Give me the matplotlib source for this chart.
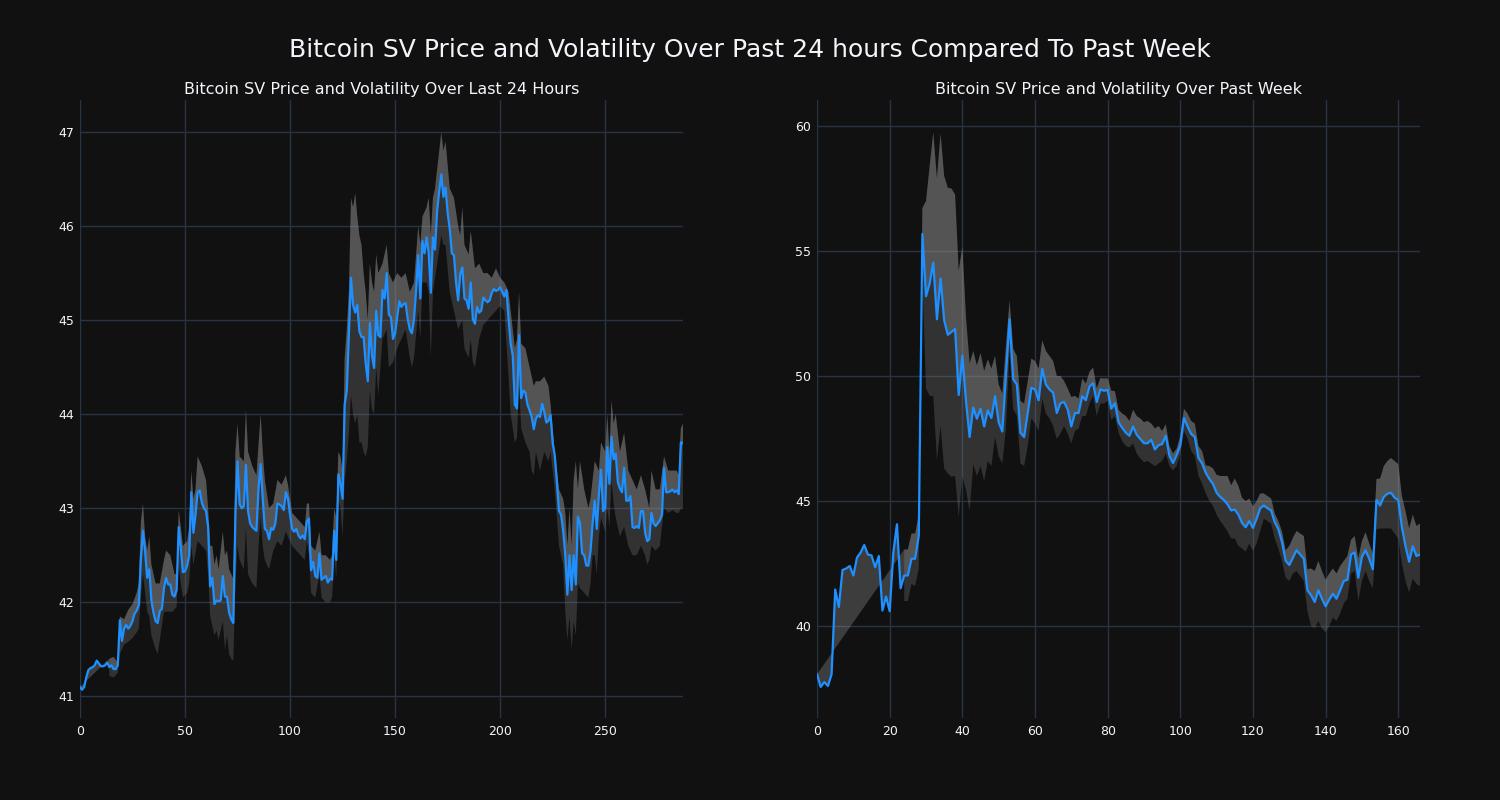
import numpy as np
import matplotlib
matplotlib.use("Agg")
import matplotlib.pyplot as plt

# ---------------- data: last 24 hours (5-minute steps) ----------------
day_price = [
    41.10, 41.07, 41.10, 41.20, 41.28, 41.30, 41.31, 41.33, 41.38, 41.35,
    41.32, 41.32, 41.33, 41.36, 41.31, 41.33, 41.29, 41.29, 41.33, 41.81,
    41.59, 41.72, 41.76, 41.72, 41.75, 41.80, 41.88, 41.91, 41.97, 42.45,
    42.76, 42.54, 42.26, 42.35, 42.02, 41.89, 41.80, 41.78, 41.91, 41.93,
    42.15, 42.26, 42.19, 42.19, 42.08, 42.06, 42.13, 42.80, 42.58, 42.32,
    42.33, 42.39, 42.50, 43.17, 42.74, 42.93, 43.17, 43.19, 43.06, 43.00,
    42.97, 42.80, 42.17, 42.26, 41.98, 42.02, 42.01, 42.02, 42.28, 42.06,
    42.06, 41.89, 41.82, 41.78, 42.93, 43.50, 43.04, 43.00, 43.02, 43.46,
    42.97, 42.84, 42.80, 42.78, 42.76, 43.21, 43.47, 43.10, 42.78, 42.76,
    42.67, 42.79, 42.77, 42.84, 43.05, 43.04, 43.02, 42.98, 43.17, 43.10,
    42.93, 42.78, 42.75, 42.78, 42.71, 42.68, 42.71, 42.67, 42.86, 42.89,
    42.34, 42.43, 42.28, 42.26, 42.52, 42.24, 42.26, 42.28, 42.21, 42.25,
    42.24, 42.76, 42.45, 43.36, 43.26, 43.10, 44.10, 44.25, 44.84, 45.45,
    45.16, 45.08, 45.16, 44.88, 44.82, 44.82, 44.54, 44.35, 44.97, 44.62,
    44.49, 45.10, 44.84, 44.82, 45.32, 45.23, 45.50, 45.06, 45.03, 44.80,
    44.86, 45.03, 45.20, 45.14, 45.17, 45.18, 45.01, 44.90, 44.86, 45.01,
    45.32, 45.69, 45.23, 45.84, 45.71, 45.88, 45.71, 45.29, 45.88, 45.75,
    46.16, 46.37, 46.55, 46.31, 46.41, 46.14, 45.97, 45.71, 45.69, 45.40,
    45.21, 45.49, 45.56, 45.23, 45.21, 45.12, 45.40, 45.01, 44.96, 45.14,
    45.08, 45.10, 45.24, 45.21, 45.19, 45.21, 45.29, 45.33, 45.31, 45.32,
    45.35, 45.30, 45.25, 45.32, 45.01, 44.75, 44.62, 44.10, 44.06, 44.84,
    44.17, 44.25, 44.23, 44.10, 44.04, 43.97, 43.84, 43.95, 43.99, 43.97,
    44.11, 44.02, 43.91, 43.93, 43.99, 43.69, 43.56, 43.28, 42.97, 42.93,
    42.76, 42.50, 42.08, 42.50, 42.13, 42.50, 42.19, 42.91, 42.84, 42.52,
    42.50, 42.39, 42.39, 42.54, 42.84, 43.08, 42.78, 43.15, 43.41, 42.97,
    43.00, 43.65, 43.26, 43.76, 43.52, 43.58, 43.28, 43.21, 43.17, 43.43,
    43.08, 43.08, 43.13, 42.80, 42.79, 42.81, 42.79, 42.97, 42.97, 42.74,
    42.65, 42.67, 42.95, 42.84, 42.81, 42.84, 42.87, 42.93, 43.43, 43.17,
    43.17, 43.18, 43.20, 43.17, 43.19, 43.15, 43.70, 43.69,
]

day_upper_x = [
    14, 16, 18, 19, 21, 23, 25, 27, 28, 29, 30, 31, 32, 33, 34, 36, 38, 40, 41, 43,
    45, 46, 47, 48, 49, 51, 52, 53, 54, 55, 56, 58, 60, 61, 62, 63, 64, 65, 66, 67,
    68, 69, 70, 71, 73, 74, 75, 76, 78, 79, 80, 82, 84, 86, 87, 88, 90, 92, 94, 96,
    98, 99, 101, 103, 105, 107, 108, 109, 110, 112, 114, 115, 117, 119, 120, 121, 122, 123, 124, 125,
    126, 127, 128, 129, 130, 131, 132, 133, 134, 135, 136, 137, 138, 139, 140, 141, 142, 144, 146, 147,
    149, 151, 153, 155, 157, 159, 161, 162, 163, 165, 166, 167, 168, 169, 170, 172, 173, 174, 176, 178,
    180, 181, 182, 183, 185, 186, 188, 190, 192, 194, 196, 198, 200, 202, 204, 205, 207, 208, 209, 210,
    212, 214, 216, 217, 219, 221, 223, 224, 226, 228, 230, 231, 232, 233, 234, 235, 236, 237, 238, 240,
    242, 243, 244, 245, 247, 248, 250, 251, 252, 253, 254, 255, 257, 259, 261, 263, 265, 267, 269, 271,
    272, 274, 276, 278, 280, 282, 284, 285, 286, 287,
]
day_upper = [
    41.40, 41.42, 41.36, 41.85, 41.82, 41.92, 41.98, 42.10, 42.20, 42.85, 43.05, 42.70, 42.55, 42.70, 42.40, 42.20, 42.20, 42.45, 42.55, 42.50,
    42.30, 42.30, 42.98, 42.80, 42.60, 42.65, 42.80, 43.40, 43.10, 43.20, 43.55, 43.45, 43.30, 43.00, 42.60, 42.60, 42.40, 42.50, 42.35, 42.55,
    42.75, 42.50, 42.55, 42.35, 42.25, 43.60, 43.90, 43.55, 43.50, 44.05, 43.60, 43.45, 43.35, 44.00, 43.60, 43.30, 43.00, 43.05, 43.30, 43.25,
    43.35, 43.25, 42.95, 42.90, 42.85, 42.80, 43.05, 43.05, 42.60, 42.55, 42.75, 42.50, 42.50, 42.45, 42.50, 43.00, 42.90, 43.60, 43.55, 43.40,
    44.60, 44.90, 45.30, 46.30, 46.20, 46.35, 46.10, 45.90, 45.80, 45.50, 45.30, 45.00, 45.60, 45.40, 45.30, 45.70, 45.50, 45.60, 45.80, 45.50,
    45.40, 45.50, 45.45, 45.50, 45.30, 45.40, 46.00, 45.80, 46.10, 46.20, 46.30, 45.90, 46.30, 46.40, 46.60, 47.00, 46.80, 46.90, 46.40, 46.30,
    46.00, 45.90, 46.20, 45.80, 45.70, 45.95, 45.55, 45.60, 45.50, 45.50, 45.45, 45.55, 45.45, 45.40, 45.30, 45.10, 44.70, 44.80, 45.30, 44.75,
    44.70, 44.50, 44.30, 44.35, 44.35, 44.40, 44.30, 44.10, 43.60, 43.20, 43.10, 42.95, 42.60, 43.00, 42.60, 43.30, 43.50, 43.20, 43.50, 43.20,
    43.00, 43.10, 43.30, 43.50, 43.40, 43.70, 43.60, 44.00, 43.60, 44.15, 43.90, 44.00, 43.60, 43.80, 43.40, 43.30, 43.20, 43.35, 43.20, 43.00,
    43.40, 43.20, 43.20, 43.55, 43.40, 43.40, 43.40, 43.35, 43.85, 43.90,
]

day_lower_x = [
    14, 16, 18, 19, 21, 23, 25, 27, 28, 29, 30, 31, 32, 33, 34, 36, 37, 38, 40, 42,
    44, 46, 47, 48, 49, 51, 52, 53, 54, 56, 58, 60, 61, 62, 63, 64, 65, 66, 68, 69,
    70, 71, 72, 73, 74, 75, 76, 78, 79, 80, 82, 84, 85, 86, 87, 88, 90, 92, 94, 96,
    98, 99, 101, 103, 105, 107, 108, 109, 110, 112, 114, 115, 117, 119, 120, 121, 122, 123, 124, 125,
    126, 127, 128, 129, 130, 131, 132, 133, 134, 135, 136, 137, 138, 139, 140, 141, 142, 144, 146, 147,
    149, 151, 153, 155, 157, 158, 159, 161, 162, 163, 165, 166, 167, 168, 170, 172, 173, 174, 176, 178,
    180, 181, 182, 183, 185, 186, 187, 188, 190, 192, 194, 196, 198, 200, 202, 204, 205, 207, 208, 209,
    210, 212, 214, 215, 216, 217, 219, 221, 223, 224, 226, 228, 230, 231, 232, 233, 234, 235, 236, 237,
    238, 240, 242, 243, 244, 245, 246, 247, 248, 250, 251, 252, 253, 254, 255, 257, 259, 261, 263, 265,
    267, 269, 270, 271, 272, 274, 276, 278, 280, 282, 284, 285, 286, 287,
]
day_lower = [
    41.22, 41.20, 41.25, 41.45, 41.55, 41.58, 41.62, 41.68, 41.72, 42.05, 42.30, 42.10, 41.90, 41.85, 41.65, 41.50, 41.45, 41.60, 41.90, 41.90,
    41.90, 41.95, 42.40, 42.20, 42.05, 42.10, 42.20, 42.60, 42.40, 42.65, 42.60, 42.55, 42.30, 41.85, 41.75, 41.65, 41.70, 41.60, 41.80, 41.50,
    41.65, 41.45, 41.40, 41.38, 42.20, 42.60, 42.45, 42.35, 42.80, 42.30, 42.20, 42.15, 42.60, 42.90, 42.60, 42.45, 42.35, 42.55, 42.65, 42.60,
    42.75, 42.70, 42.60, 42.55, 42.50, 42.45, 42.65, 42.50, 42.10, 42.05, 42.30, 42.05, 42.00, 42.00, 42.05, 42.50, 42.25, 43.10, 43.00, 42.70,
    43.30, 43.50, 43.80, 44.20, 44.00, 43.90, 44.00, 43.70, 43.70, 43.60, 43.55, 43.65, 44.25, 44.05, 44.00, 44.50, 44.20, 44.80, 44.90, 44.50,
    44.55, 44.70, 44.80, 44.90, 44.60, 44.50, 44.60, 45.10, 44.80, 45.40, 45.40, 45.30, 44.60, 45.30, 45.60, 45.90, 45.80, 45.80, 45.30, 45.10,
    44.90, 44.95, 45.00, 44.70, 44.60, 44.80, 44.55, 44.50, 44.80, 44.95, 45.00, 45.05, 45.10, 45.15, 45.10, 44.40, 44.00, 43.70, 43.75, 44.30,
    43.85, 43.70, 43.60, 43.40, 43.35, 43.60, 43.40, 43.60, 43.50, 43.60, 43.20, 42.60, 42.40, 41.90, 41.60, 41.85, 41.50, 41.80, 41.65, 42.20,
    42.15, 42.10, 42.05, 42.20, 42.50, 42.50, 42.30, 42.70, 42.90, 42.75, 43.00, 42.80, 43.30, 43.05, 42.90, 42.70, 42.80, 42.60, 42.50, 42.50,
    42.60, 42.50, 42.40, 42.45, 42.60, 42.55, 42.60, 43.00, 42.95, 42.98, 42.95, 42.95, 43.00, 43.00,
]

# ---------------- data: past week (hourly steps) ----------------
week_price = [
    38.07, 37.56, 37.76, 37.60, 38.07, 41.46, 40.76, 42.24, 42.30, 42.40,
    42.02, 42.74, 42.94, 43.24, 42.86, 42.82, 42.35, 42.80, 40.62, 41.18,
    40.59, 42.94, 44.07, 41.51, 42.02, 42.02, 42.69, 42.69, 43.61, 55.68,
    53.19, 53.70, 54.54, 52.27, 53.90, 52.22, 51.65, 51.76, 51.88, 49.24,
    50.81, 48.99, 47.56, 48.74, 48.29, 48.69, 47.98, 48.62, 48.32, 49.19,
    48.15, 47.78, 50.00, 52.27, 49.87, 49.66, 47.73, 47.56, 48.52, 49.53,
    49.46, 49.03, 50.29, 49.66, 49.46, 49.33, 48.52, 48.91, 48.96, 48.66,
    47.98, 48.52, 48.52, 49.19, 49.03, 49.58, 49.71, 48.96, 49.46, 49.41,
    49.44, 48.69, 48.91, 48.15, 47.93, 47.73, 47.61, 47.98, 47.65, 47.48,
    47.31, 47.31, 47.45, 47.06, 47.23, 47.28, 47.61, 46.81, 46.52, 46.84,
    47.23, 48.32, 47.98, 47.68, 47.56, 46.72, 46.50, 46.13, 45.88, 45.68,
    45.33, 45.16, 45.04, 44.87, 44.62, 44.66, 44.45, 44.12, 43.95, 44.20,
    43.92, 44.29, 44.71, 44.82, 44.71, 44.62, 44.15, 43.87, 43.36, 42.61,
    42.44, 42.74, 43.03, 42.86, 42.69, 41.43, 41.23, 40.96, 41.43, 41.09,
    40.79, 41.06, 41.29, 41.09, 41.43, 41.80, 41.85, 42.86, 42.94, 41.93,
    42.77, 43.03, 42.69, 42.27, 45.04, 44.82, 45.16, 45.29, 45.33, 45.13,
    45.04, 43.95, 43.19, 42.57, 43.19, 42.80, 42.86,
]

week_band_x = list(range(24, 167))
week_upper = [
    43.06, 43.06, 43.70, 43.70, 44.45, 56.72, 57.00, 58.40, 59.75, 57.90,
    59.70, 58.00, 57.53, 57.50, 57.26, 54.20, 55.17, 52.35, 50.50, 51.00,
    50.42, 50.92, 50.20, 50.67, 50.30, 50.80, 49.66, 49.30, 51.20, 53.03,
    51.09, 50.80, 49.00, 48.90, 49.80, 50.70, 50.60, 50.30, 51.43, 51.00,
    50.80, 50.60, 50.00, 50.00, 49.80, 49.50, 49.16, 49.20, 49.10, 49.90,
    49.70, 50.17, 50.34, 49.50, 49.92, 49.90, 49.90, 49.41, 49.40, 48.65,
    48.50, 48.40, 48.20, 48.65, 48.40, 48.30, 48.15, 48.20, 48.10, 47.90,
    48.00, 47.80, 48.07, 47.20, 46.90, 47.10, 47.60, 48.69, 48.50, 48.20,
    48.10, 47.20, 47.00, 46.42, 46.40, 46.30, 46.05, 46.00, 46.00, 46.00,
    45.63, 45.90, 45.60, 45.13, 45.00, 45.10, 44.79, 45.00, 45.30, 45.30,
    45.20, 45.10, 44.50, 44.20, 43.78, 43.03, 43.20, 43.53, 43.80, 43.70,
    43.60, 42.27, 42.30, 42.20, 42.60, 42.20, 41.85, 42.10, 42.30, 42.10,
    42.40, 42.60, 42.80, 43.45, 43.60, 42.70, 43.40, 43.75, 43.30, 42.90,
    45.88, 45.90, 46.39, 46.60, 46.72, 46.60, 46.47, 45.20, 44.60, 43.90,
    44.45, 44.00, 44.10,
]
week_lower = [
    41.00, 41.00, 41.68, 41.60, 42.30, 54.00, 49.50, 49.20, 49.20, 46.64,
    48.00, 46.30, 46.10, 45.97, 46.00, 44.37, 46.00, 45.46, 44.60, 46.47,
    46.00, 46.40, 45.80, 46.60, 46.40, 47.56, 46.80, 46.50, 47.90, 51.00,
    48.66, 48.40, 46.50, 46.40, 47.20, 48.30, 48.10, 47.80, 49.08, 48.50,
    48.30, 48.00, 47.48, 47.70, 48.00, 47.70, 47.30, 47.80, 47.90, 48.40,
    48.40, 48.90, 49.20, 48.40, 48.90, 48.90, 49.00, 48.24, 48.40, 47.73,
    47.40, 47.20, 47.14, 47.30, 46.90, 46.70, 46.55, 46.60, 46.50, 46.39,
    46.50, 46.60, 46.90, 46.40, 46.22, 46.40, 46.90, 47.80, 47.50, 47.00,
    46.80, 46.00, 45.70, 45.30, 45.00, 44.80, 44.45, 44.20, 44.00, 43.78,
    43.50, 43.50, 43.20, 43.10, 42.98, 43.30, 43.00, 43.30, 43.80, 44.29,
    44.20, 44.10, 43.50, 43.10, 42.60, 41.93, 41.80, 42.10, 42.20, 42.00,
    41.80, 40.59, 40.00, 39.92, 40.20, 39.90, 39.75, 40.00, 40.34, 40.20,
    40.50, 40.90, 41.09, 42.10, 42.20, 41.00, 41.80, 42.20, 41.80, 41.51,
    43.87, 43.90, 43.90, 43.90, 43.90, 43.70, 43.50, 42.50, 41.80, 41.34,
    41.90, 41.68, 41.60,
]

main_title = "Bitcoin SV Price and Volatility Over Past 24 hours Compared To Past Week"
left_title = "Bitcoin SV Price and Volatility Over Last 24 Hours"
right_title = "Bitcoin SV Price and Volatility Over Past Week"

# ---------------- styling ----------------
BG = "#111111"
GRID = "#283442"
TXT = "#f2f5fa"
LINE = "#1e90ff"

fig = plt.figure(figsize=(15, 8), dpi=100, facecolor=BG)
fig.suptitle(main_title, color=TXT, fontsize=18, y=0.9375, va="center")

ax1 = fig.add_axes([0.0533, 0.1025, 0.402, 0.7725])
ax2 = fig.add_axes([0.5447, 0.1025, 0.402, 0.7725])


def draw(ax, price, up_x, upper, lo_x, lower, title, xlim, ylim, yticks, xticks):
    ax.set_facecolor(BG)
    px = np.arange(len(price))
    price = np.asarray(price)
    up_x = np.asarray(up_x); upper = np.asarray(upper)
    lo_x = np.asarray(lo_x); lower = np.asarray(lower)
    # band between lower and upper
    ax.fill(np.concatenate([lo_x, up_x[::-1]]), np.concatenate([lower, upper[::-1]]),
            color=(128/255, 128/255, 128/255), alpha=0.3, lw=0, zorder=2)
    # band between upper and price
    ax.fill(np.concatenate([up_x, px[::-1]]), np.concatenate([upper, price[::-1]]),
            color=(164/255, 164/255, 164/255), alpha=0.3, lw=0, zorder=2)
    ax.plot(px, price, color=LINE, lw=1.6, zorder=3)
    ax.set_xlim(*xlim)
    ax.set_ylim(*ylim)
    ax.set_xticks(xticks)
    ax.set_yticks(yticks)
    ax.grid(True, color=GRID, lw=1, zorder=0)
    ax.set_axisbelow(True)
    for s in ax.spines.values():
        s.set_visible(False)
    ax.axvline(xlim[0], color=GRID, lw=1.5, zorder=1)
    ax.tick_params(colors=TXT, labelsize=9, length=0, pad=5)
    ax.tick_params(axis="y", pad=4)
    ax.set_title(title, color=TXT, fontsize=11.5, pad=4)


draw(ax1, day_price, day_upper_x, day_upper, day_lower_x, day_lower, left_title,
     (0, 287), (40.77, 47.34), [41, 42, 43, 44, 45, 46, 47], [0, 50, 100, 150, 200, 250])
draw(ax2, week_price, week_band_x, week_upper, week_band_x, week_lower, right_title,
     (0, 166), (36.32, 61.04), [40, 45, 50, 55, 60], [0, 20, 40, 60, 80, 100, 120, 140, 160])

fig.savefig("out.png", dpi=100, facecolor=BG)
